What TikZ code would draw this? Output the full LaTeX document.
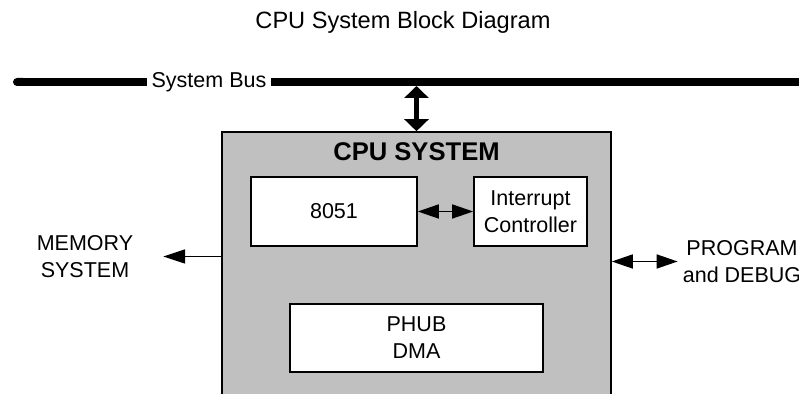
\documentclass[tikz,border=0pt]{standalone}
\usepackage{fontspec}
\setmainfont{Liberation Sans}
\usepackage{xcolor}
\definecolor{cpugray}{RGB}{192,192,192}
\usetikzlibrary{arrows.meta}

\begin{document}
\begin{tikzpicture}[x=0.5pt,y=-0.5pt,
    txt/.style={inner sep=0pt,align=center,font=\fontsize{10.75}{13.5}\selectfont},
    blk/.style={draw,fill=white,line width=0.8pt,txt},
    bus/.style={line width=4pt},
    sarrow/.style={line width=0.8pt,-{Triangle[length=11pt,width=7pt]}},
    darrow/.style={line width=0.8pt,{Triangle[length=10.5pt,width=7pt]}-{Triangle[length=10.5pt,width=7pt]}},
    busarrow/.style={line width=2.5pt,{Triangle[length=6pt,width=12pt]}-{Triangle[length=6pt,width=12pt]}}]
  \useasboundingbox (0,0) rectangle (799,394);
  \clip (0,0) rectangle (799,394);
  % title and bus
  \node[txt,font=\fontsize{11.8}{14}\selectfont] (title) at (403,22) {CPU System Block Diagram};
  \node[txt,inner sep=2pt] (buslabel) at (209,82) {System Bus};
  \coordinate (busL) at (13,82);
  \coordinate (busR) at (810,82);
  \draw[bus,{Round Cap[]}-] (busL) -- (buslabel.west);
  \draw[bus] (buslabel.east) -- (busR);
  % cpu block
  \node[draw,fill=cpugray,line width=0.8pt,minimum width=194.5pt,minimum height=149pt,inner sep=0pt] (cpu) at (416.5,281) {};
  \node[txt,font=\fontsize{12.8}{15}\selectfont\bfseries] (cputitle) at (416.5,152) {CPU SYSTEM};
  \node[blk,minimum width=83pt,minimum height=34.5pt] (i8051) at (334,211.5) {8051};
  \node[blk,minimum width=56.5pt,minimum height=34.5pt] (intc) at (530.5,211.5) {Interrupt\\Controller};
  \node[blk,minimum width=126.5pt,minimum height=34pt] (phub) at (416.5,338) {PHUB\\DMA};
  % outside
  \node[txt] (mem) at (85,256.5) {MEMORY\\SYSTEM};
  \node[txt] (prog) at (742,261.5) {PROGRAM\\and DEBUG};
  % connections
  \coordinate (bustap) at (416.5,86);
  \draw[busarrow] (bustap) -- (cpu.north);
  \draw[darrow] (i8051) -- (intc);
  \draw[sarrow] (cpu.west |- mem.east) -- ([xshift=14.8pt]mem.east);
  \draw[darrow] (cpu.east |- prog.west) -- ([xshift=-2.4pt]prog.west);
\end{tikzpicture}
\end{document}
